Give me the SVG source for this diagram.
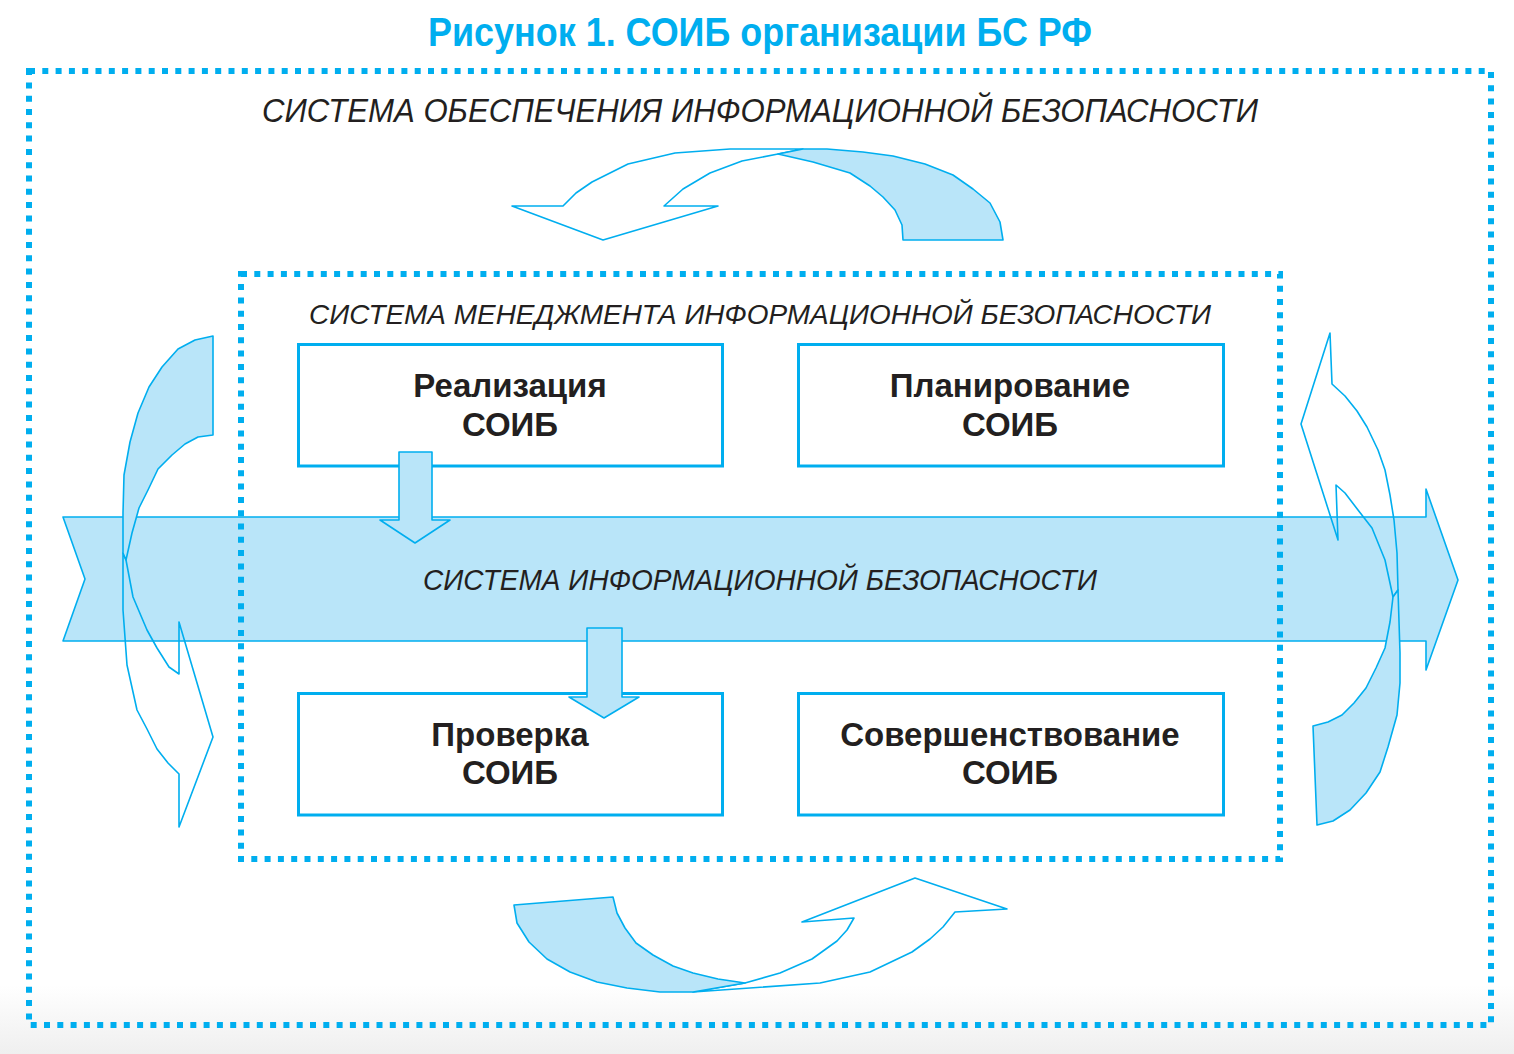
<svg xmlns="http://www.w3.org/2000/svg" width="1514" height="1054" viewBox="0 0 1514 1054">
<defs>
<linearGradient id="floor" x1="0" y1="0" x2="0" y2="1">
<stop offset="0" stop-color="#ffffff"/>
<stop offset="1" stop-color="#efefef"/>
</linearGradient>
</defs>
<style>
.dots{fill:none;stroke:#00AEEF;stroke-width:6;stroke-dasharray:6 7.3}
.shade{fill:#B9E5F9;stroke:#00AEEF;stroke-width:1.6;stroke-linejoin:round}
.hollow{fill:none;stroke:#00AEEF;stroke-width:1.6;stroke-linejoin:round}
.box{fill:#ffffff;stroke:#00AEEF;stroke-width:3}
.lbl{font-family:"Liberation Sans",Arial,sans-serif;font-weight:bold;font-size:33px;fill:#231F20;text-anchor:middle}
.ital{font-family:"Liberation Sans",Arial,sans-serif;font-style:italic;fill:#231F20}
.title{font-family:"Liberation Sans",Arial,sans-serif;font-weight:bold;font-size:40px;fill:#00AEEF}
</style>
<rect x="0" y="0" width="1514" height="1054" fill="#ffffff"/>
<rect x="0" y="985" width="1514" height="69" fill="url(#floor)"/>

<text class="title" x="428" y="46" textLength="664" lengthAdjust="spacingAndGlyphs">Рисунок 1. СОИБ организации БС РФ</text>

<g id="band">
<polygon class="shade" points="63,517 1426,517 1426,489 1458,580 1426,670 1426,641 63,641 85,579"/>
<text class="ital" x="423" y="590" font-size="29" textLength="674" lengthAdjust="spacingAndGlyphs">СИСТЕМА ИНФОРМАЦИОННОЙ БЕЗОПАСНОСТИ</text>
</g>

<g id="outer-system">
<rect class="dots" x="29" y="71" width="1462" height="954"/>
<text class="ital" x="262" y="122" font-size="34" textLength="996" lengthAdjust="spacingAndGlyphs">СИСТЕМА ОБЕСПЕЧЕНИЯ ИНФОРМАЦИОННОЙ БЕЗОПАСНОСТИ</text>
</g>

<g id="management-system">
<rect class="dots" x="241" y="274" width="1039" height="585"/>
<text class="ital" x="309" y="324" font-size="28" textLength="902" lengthAdjust="spacingAndGlyphs">СИСТЕМА МЕНЕДЖМЕНТА ИНФОРМАЦИОННОЙ БЕЗОПАСНОСТИ</text>
</g>

<g id="realization">
<rect class="box" x="298.5" y="344.5" width="424" height="121.5"/>
<text class="lbl" x="510" y="397">Реализация</text>
<text class="lbl" x="510" y="436">СОИБ</text>
</g>
<g id="planning">
<rect class="box" x="798.5" y="344.5" width="425" height="121.5"/>
<text class="lbl" x="1010" y="397">Планирование</text>
<text class="lbl" x="1010" y="436">СОИБ</text>
</g>
<g id="check">
<rect class="box" x="298.5" y="693.5" width="424" height="121.5"/>
<text class="lbl" x="510" y="746">Проверка</text>
<text class="lbl" x="510" y="784">СОИБ</text>
</g>
<g id="improvement">
<rect class="box" x="798.5" y="693.5" width="425" height="121.5"/>
<text class="lbl" x="1010" y="746">Совершенствование</text>
<text class="lbl" x="1010" y="784">СОИБ</text>
</g>

<g id="connectors">
<!-- top cycle arrow -->
<polygon class="hollow" points="803,149 730,149 675,153 628,164 610,173 592,182 576,193 563,206 512,206 603,240 718,206 664,206 683,189 710,173 742,161 778,154"/>
<polygon class="shade" points="778,154 803,149 827,149 863,152 893,156 925,164 953,175 973,189 990,203 1000,222 1003,240 903,240 902,225 895,210 883,197 870,186 850,173 813,162"/>
<!-- left cycle arrow -->
<polygon class="hollow" points="123,553 123,610 127,665 137,710 147,729 157,749 168,763 179,774 179,827 213,737 179,622 179,674 169,667 157,648 147,630 133,597 126,560"/>
<polygon class="shade" points="213,336 195,340 178,349 162,367 149,387 138,413 130,442 124,475 123,513 123,553 126,560 132,533 139,508 148,490 158,469 172,455 185,444 198,437 213,435"/>
<!-- right cycle arrow -->
<polygon class="hollow" points="1330,333 1301,424 1338,540 1336,485 1345,493 1358,510 1372,528 1385,560 1393,597 1398,590 1397,553 1394,520 1390,495 1385,470 1378,450 1367,427 1357,411 1345,396 1332,384"/>
<polygon class="shade" points="1398,590 1400,653 1400,683 1397,715 1388,747 1380,772 1366,793 1350,810 1333,821 1317,825 1313,726 1328,722 1342,715 1354,703 1366,688 1376,668 1385,648 1390,622 1393,597"/>
<!-- bottom cycle arrow -->
<polygon class="hollow" points="693,992 820,983 870,972 912,952 930,939 943,927 955,912 1007,909 915,878 802,922 854,918 847,930 837,941 812,959 780,973 745,983"/>
<polygon class="shade" points="514,905 613,897 617,913 625,928 636,943 653,955 673,966 693,973 718,979 745,983 693,992 660,992 627,988 597,982 570,972 547,959 529,942 517,923"/>
<!-- realization to system -->
<polygon class="shade" points="399,452 432,452 432,520 450,520 415,543 380,520 399,520"/>
<!-- system to check -->
<polygon class="shade" points="587,628 622,628 622,697 639,697 604,718 569,697 587,697"/>
</g>
</svg>
